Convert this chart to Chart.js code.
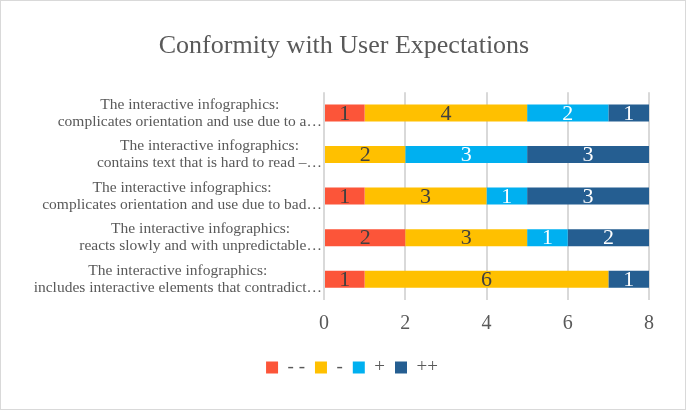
<!DOCTYPE html>
<html>
<head>
<meta charset="utf-8">
<script src="https://cdn.jsdelivr.net/npm/chart.js@4"></script>
<style>
	body { margin: 0; background: #fff; }
	#wrap { width: 684px; height: 408px; border: 1px solid #d9d9d9; }
</style>
</head>
<body>
<div id="wrap"><canvas id="conformityChart" width="684" height="408"></canvas></div>
<script>
	// categories (top to bottom), already cut the way the picture shows them
	const categories = [
		['The interactive infographics:', 'complicates orientation and use due to a…'],
		['The interactive infographics:', 'contains text that is hard to read –…'],
		['The interactive infographics:', 'complicates orientation and use due to bad…'],
		['The interactive infographics:', 'reacts slowly and with unpredictable…'],
		['The interactive infographics:', 'includes interactive elements that contradict…']
	];
	const seriesNames = ['- -', '-', '+', '++'];
	const veryNegative = [1, 0, 1, 2, 1];
	const negative = [4, 2, 3, 3, 6];
	const positive = [2, 3, 1, 1, 0];
	const veryPositive = [1, 3, 3, 2, 1];
	const xTicks = [0, 2, 4, 6, 8];

	const colors = ['#FC5539', '#FFC000', '#00B0F0', '#255E91'];
	const labelColors = ['#404040', '#404040', '#ffffff', '#ffffff'];
	const serif = '"Liberation Serif", "Times New Roman", serif';

	// numbers inside the bar segments
	const segmentLabels = {
		id: 'segmentLabels',
		afterDatasetsDraw(chart) {
			const ctx = chart.ctx;
			ctx.save();
			ctx.font = '22px ' + serif;
			ctx.textAlign = 'center';
			ctx.textBaseline = 'middle';
			chart.data.datasets.forEach((ds, i) => {
				const meta = chart.getDatasetMeta(i);
				meta.data.forEach((bar, j) => {
					const v = ds.data[j];
					if (!v) return;
					ctx.fillStyle = labelColors[i];
					ctx.fillText(String(v), (bar.x + bar.base) / 2, bar.y + 1);
				});
			});
			ctx.restore();
		}
	};

	// category labels: block right aligned to the axis, lines centred inside it (like Excel)
	const categoryLabels = {
		id: 'categoryLabels',
		afterDraw(chart) {
			const ctx = chart.ctx;
			const yScale = chart.scales.y;
			const lineH = 17;
			ctx.save();
			ctx.font = '15.5px ' + serif;
			ctx.fillStyle = '#595959';
			ctx.textAlign = 'center';
			ctx.textBaseline = 'middle';
			chart.data.labels.forEach((lines, i) => {
				const blockW = Math.max(...lines.map(l => ctx.measureText(l).width));
				const cx = chart.chartArea.left - 2 - blockW / 2;
				const cy = yScale.getPixelForValue(i);
				lines.forEach((l, k) => {
					ctx.fillText(l, cx, cy + (k - (lines.length - 1) / 2) * lineH);
				});
			});
			ctx.restore();
		}
	};

	// title and legend sit a little right of the plot padding centre in the picture
	const boxShift = {
		id: 'boxShift',
		afterLayout(chart) {
			chart.legend.left += 22;
			chart.legend.right += 22;
			chart.titleBlock.left += 14;
			chart.titleBlock.right += 14;
		}
	};

	const seriesData = [veryNegative, negative, positive, veryPositive];

	new Chart(document.getElementById('conformityChart'), {
		type: 'bar',
		data: {
			labels: categories,
			datasets: seriesNames.map((name, i) => ({
				label: name,
				data: seriesData[i],
				backgroundColor: colors[i],
				borderWidth: 0,
				categoryPercentage: 0.41,
				barPercentage: 1
			}))
		},
		options: {
			responsive: false,
			animation: false,
			indexAxis: 'y',
			layout: { padding: { left: 10, right: 36, top: 30, bottom: 22 } },
			plugins: {
				title: {
					display: true,
					text: 'Conformity with User Expectations',
					color: '#595959',
					font: { family: serif, size: 26, weight: 'normal' },
					padding: { top: 0, bottom: 30 }
				},
				legend: {
					position: 'bottom',
					labels: {
						color: '#595959',
						font: { family: serif, size: 19 },
						boxWidth: 12,
						boxHeight: 12,
						padding: 10
					}
				},
				tooltip: { enabled: false }
			},
			scales: {
				x: {
					stacked: true,
					min: 0,
					max: 8,
					afterBuildTicks: (scale) => { scale.ticks = xTicks.map(v => ({ value: v })); },
					afterFit: (scale) => { scale.height = 48; },
					grid: { color: '#d9d9d9', lineWidth: 2, drawTicks: false },
					border: { display: false },
					ticks: {
						color: '#595959',
						font: { family: serif, size: 20 },
						padding: 12
					}
				},
				y: {
					stacked: true,
					grid: { display: false },
					border: { display: false },
					ticks: { display: false },
					afterFit: (scale) => { scale.width = 313; }
				}
			}
		},
		plugins: [segmentLabels, categoryLabels, boxShift]
	});
</script>
</body>
</html>
